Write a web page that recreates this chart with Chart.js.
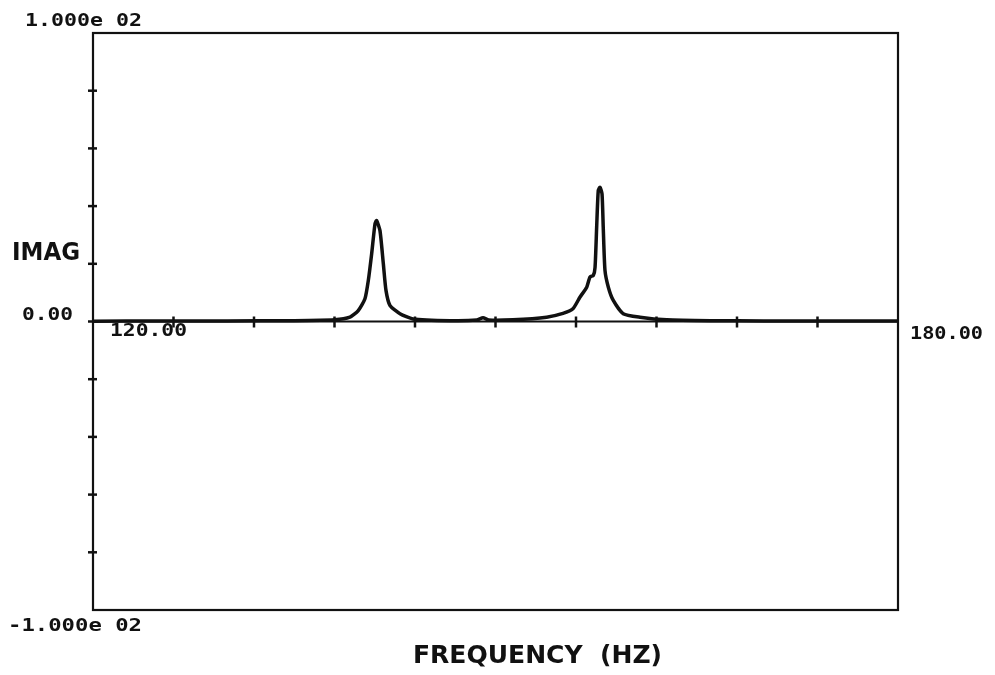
<!DOCTYPE html>
<html>
<head>
<meta charset="utf-8">
<title>IMAG vs frequency</title>
<script src="https://cdn.jsdelivr.net/npm/chart.js@4.4.1/dist/chart.umd.min.js"></script>
<style>
  html, body { margin: 0; padding: 0; background: #fff; }
  #wrap { width: 995px; height: 675px; position: relative; }
</style>
</head>
<body>
<div id="wrap"><canvas id="chart-canvas" width="995" height="675"></canvas></div>
<script>
// frequency (Hz) and imaginary part
var freqHz = [120.0, 125.0, 130.0, 135.0, 138.0, 139.15, 139.77, 140.27, 140.52, 140.77, 141.02, 141.14,
              141.39, 141.64, 141.84, 142.14, 142.88, 143.85, 146.61, 148.6, 149.07, 149.5, 151.3,
              153.81, 155.03, 155.77, 156.29, 156.8, 157.04, 157.29, 157.42, 157.54, 157.66, 157.79,
              157.94, 158.03, 158.16, 158.41, 158.78, 159.52, 160.77, 162.76, 166.0, 170.0, 175.0, 180.0];
var imagVal = [0.1, 0.2, 0.2, 0.3, 0.6, 1.5, 3.8, 7.9, 14.2, 23.5, 33.9, 35.0,
               31.5, 20.0, 10.7, 5.5, 2.7, 0.9, 0.3, 0.5, 1.3, 0.5, 0.6,
               1.5, 2.8, 4.4, 8.4, 11.9, 15.4, 16.0, 18.8, 32.7, 45.4, 46.5,
               44.2, 32.7, 17.7, 11.9, 7.3, 2.7, 1.5, 0.6, 0.3, 0.2, 0.2, 0.2];

var xTicks = [126, 132, 138, 144, 150, 156, 162, 168, 174];
var yTicks = [-80, -60, -40, -20, 0, 20, 40, 60, 80];

var points = freqHz.map(function (f, i) { return { x: f, y: imagVal[i] }; });

// draw text stretched to a given width (plotter lettering is wide)
function wideText(ctx, txt, x, y, w, font) {
    ctx.save();
    ctx.font = font;
    ctx.textBaseline = 'middle';
    ctx.textAlign = 'left';
    var m = ctx.measureText(txt).width;
    ctx.translate(x, y);
    ctx.scale(w / m, 1);
    ctx.fillText(txt, 0, 0);
    ctx.restore();
}

var plotterAxes = {
    id: 'plotterAxes',
    beforeDatasetsDraw: function (chart) {
        var ctx = chart.ctx;
        var xs = chart.scales.x, ys = chart.scales.y;
        var l = xs.left, r = xs.right, t = ys.top, b = ys.bottom;
        var y0 = ys.getPixelForValue(0);
        ctx.save();
        ctx.strokeStyle = '#111';
        ctx.lineWidth = 2.2;
        ctx.strokeRect(l, t, r - l, b - t);
        // zero line
        ctx.lineWidth = 1.8;
        ctx.beginPath();
        ctx.moveTo(l, y0);
        ctx.lineTo(r, y0);
        ctx.stroke();
        // tick crosses on the left axis
        ctx.lineWidth = 2.5;
        yTicks.forEach(function (v) {
            var py = ys.getPixelForValue(v);
            ctx.beginPath();
            ctx.moveTo(l - 5, py);
            ctx.lineTo(l + 4, py);
            ctx.stroke();
        });
        // tick crosses on the zero line
        xTicks.forEach(function (v) {
            var px = xs.getPixelForValue(v);
            ctx.beginPath();
            ctx.moveTo(px, y0 - 5);
            ctx.lineTo(px, y0 + 6);
            ctx.stroke();
        });
        ctx.restore();
    },
    afterDraw: function (chart) {
        var ctx = chart.ctx;
        ctx.save();
        ctx.fillStyle = '#111';
        var bold = 'bold 18px "DejaVu Sans Mono"';
        wideText(ctx, '1.000e 02', 25, 21, 117, bold);
        wideText(ctx, '0.00', 22, 315, 51, bold);
        wideText(ctx, '-1.000e 02', 8, 626, 134, bold);
        wideText(ctx, '120.00', 110, 331, 77, bold);
        wideText(ctx, '180.00', 910, 334, 73, bold);
        wideText(ctx, 'IMAG', 12, 254, 68, '600 24px "DejaVu Sans"');
        wideText(ctx, 'FREQUENCY  (HZ)', 413, 657, 249, '600 24px "DejaVu Sans"');
        ctx.restore();
    }
};

new Chart('chart-canvas', {
    type: 'line',
    data: {
        datasets: [{
            label: 'IMAG',
            data: points,
            borderColor: '#111',
            borderWidth: 3.5,
            pointRadius: 0,
            tension: 0.2,
            fill: false
        }]
    },
    options: {
        responsive: false,
        animation: false,
        layout: { padding: { left: 93, right: 97, top: 33, bottom: 65 } },
        plugins: { legend: { display: false }, tooltip: { enabled: false } },
        scales: {
            x: { type: 'linear', min: 120, max: 180, display: false },
            y: { type: 'linear', min: -100, max: 100, display: false }
        }
    },
    plugins: [plotterAxes]
});
</script>
</body>
</html>
